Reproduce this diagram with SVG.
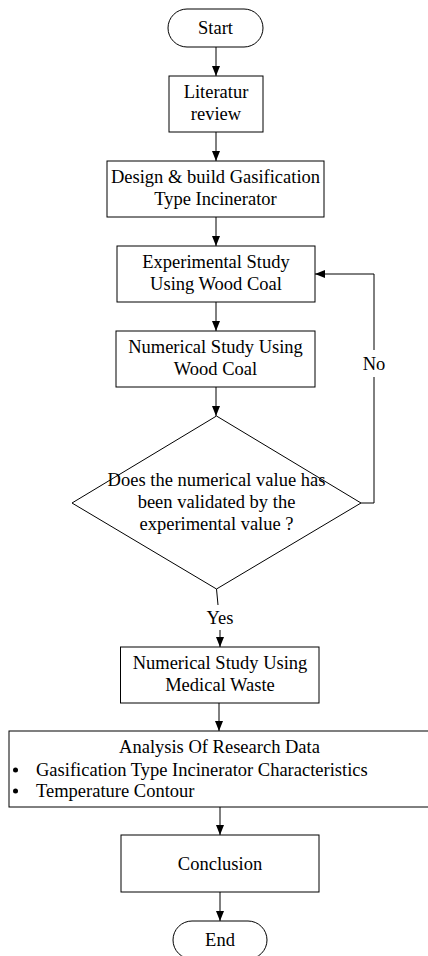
<svg xmlns="http://www.w3.org/2000/svg" width="428" height="956" viewBox="0 0 428 956">
<style>
.n{fill:#fff;stroke:#000;stroke-width:1}
text{font-family:'Liberation Serif','DejaVu Serif',serif;font-size:18.5px;fill:#000}
.t{text-anchor:middle}
.c{fill:none;stroke:#000;stroke-width:1}
</style>
<defs>
<marker id="ah" viewBox="0 0 10 10" refX="10" refY="5" markerWidth="10" markerHeight="10" markerUnits="userSpaceOnUse" orient="auto">
<path d="M0,1 L10,5 L0,9 z" fill="#000"/>
</marker>
</defs>
<rect width="428" height="956" fill="#fff"/>
<g id="connectors">
<line class="c" x1="216" y1="47" x2="216" y2="76" marker-end="url(#ah)"/>
<line class="c" x1="216" y1="132" x2="216" y2="161" marker-end="url(#ah)"/>
<line class="c" x1="216" y1="217" x2="216" y2="246" marker-end="url(#ah)"/>
<line class="c" x1="216" y1="302" x2="216" y2="331" marker-end="url(#ah)"/>
<line class="c" x1="216" y1="387" x2="216" y2="416" marker-end="url(#ah)"/>
<polyline class="c" points="361,503 374,503 374,377"/>
<polyline class="c" points="374,350 374,274 315,274" marker-end="url(#ah)"/>
<text class="t" x="374" y="370">No</text>
<line class="c" x1="216.5" y1="589" x2="218" y2="605"/>
<text class="t" x="220" y="624">Yes</text>
<line class="c" x1="220" y1="630" x2="220" y2="647" marker-end="url(#ah)"/>
<line class="c" x1="219" y1="703" x2="219" y2="731" marker-end="url(#ah)"/>
<line class="c" x1="220" y1="807" x2="220" y2="835" marker-end="url(#ah)"/>
<line class="c" x1="220" y1="892" x2="220" y2="921" marker-end="url(#ah)"/>
</g>
<g id="start">
<rect class="n" x="168" y="9" width="95" height="38" rx="19"/>
<text class="t" x="215.5" y="34">Start</text>
</g>
<g id="literatur">
<rect class="n" x="169" y="76" width="94" height="56"/>
<text class="t" x="216" y="98">Literatur</text>
<text class="t" x="216" y="120">review</text>
</g>
<g id="design">
<rect class="n" x="107" y="161" width="217" height="56"/>
<text class="t" x="215.5" y="183">Design &amp; build Gasification</text>
<text class="t" x="215.5" y="205">Type Incinerator</text>
</g>
<g id="experimental">
<rect class="n" x="117" y="246" width="198" height="56"/>
<text class="t" x="216" y="268">Experimental Study</text>
<text class="t" x="216" y="290">Using Wood Coal</text>
</g>
<g id="numerical-wood">
<rect class="n" x="116" y="331" width="199" height="56"/>
<text class="t" x="215.5" y="353">Numerical Study Using</text>
<text class="t" x="215.5" y="375">Wood Coal</text>
</g>
<g id="decision">
<polygon class="n" points="216.5,416 361,503 216.5,589 72,503"/>
<text class="t" x="216.5" y="486">Does the numerical value has</text>
<text class="t" x="216.5" y="508">been validated by the</text>
<text class="t" x="216.5" y="530">experimental value ?</text>
</g>
<g id="numerical-medical">
<rect class="n" x="120.5" y="647" width="198.5" height="56"/>
<text class="t" x="220" y="669">Numerical Study Using</text>
<text class="t" x="220" y="691">Medical Waste</text>
</g>
<g id="analysis">
<rect class="n" x="9" y="731" width="425" height="76"/>
<text class="t" x="219.5" y="753">Analysis Of Research Data</text>
<circle cx="15.5" cy="770" r="2.5" fill="#000"/>
<text x="36" y="776">Gasification Type Incinerator Characteristics</text>
<circle cx="15.5" cy="791" r="2.5" fill="#000"/>
<text x="36" y="797">Temperature Contour</text>
</g>
<g id="conclusion">
<rect class="n" x="121" y="835" width="198" height="57"/>
<text class="t" x="220" y="870">Conclusion</text>
</g>
<g id="end">
<rect class="n" x="173" y="921" width="94" height="38" rx="19"/>
<text class="t" x="220" y="946">End</text>
</g>
</svg>
